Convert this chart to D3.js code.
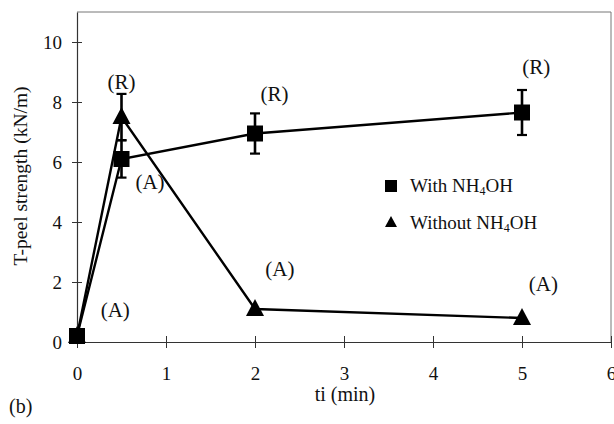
<!DOCTYPE html>
<html>
<head>
<meta charset="utf-8">
<script src="https://cdn.jsdelivr.net/npm/d3@7"></script>
<style>
  html, body { margin: 0; padding: 0; background: #fff; }
  svg { display: block; }
  svg text { font-family: 'Liberation Serif', 'Times New Roman', serif !important; fill: #111; }
</style>
</head>
<body>
<svg id="chart" width="614" height="424" font-family="Liberation Serif, serif"></svg>
<script>
// ---- data ----
const times = [0, 0.5, 2, 5];
const withNH4OH = [0.2, 6.1, 6.95, 7.65];
const withErr   = [0, 0.62, 0.67, 0.75];
const withoutNH4OH = [0.2, 7.5, 1.1, 0.8];
const withoutErr   = [0, 0.77, 0, 0];
const xTicks = [0, 1, 2, 3, 4, 5, 6];
const yTicks = [0, 2, 4, 6, 8, 10];
const annotations = [
  { t: 0.5,  v: 8.65, label: "(R)" },
  { t: 2.22, v: 8.22, label: "(R)" },
  { t: 5.16, v: 9.12, label: "(R)" },
  { t: 0.82, v: 5.3,  label: "(A)" },
  { t: 2.28, v: 2.4,  label: "(A)" },
  { t: 5.24, v: 1.9,  label: "(A)" },
  { t: 0.43, v: 1.05, label: "(A)" }
];

// ---- layout ----
const svg = d3.select("#chart");
const x = d3.scaleLinear().domain([0, 6]).range([77, 611]);
const y = d3.scaleLinear().domain([0, 11]).range([342, 12]);

// frame (top/right, faint)
svg.append("line").attr("x1", x(0)).attr("x2", x(6)).attr("y1", y(11)).attr("y2", y(11))
  .attr("stroke", "#777").attr("stroke-width", 1);
svg.append("line").attr("x1", x(6)).attr("x2", x(6)).attr("y1", y(11)).attr("y2", y(0))
  .attr("stroke", "#777").attr("stroke-width", 1);

// axes
const gx = svg.append("g").attr("transform", `translate(0,${y(0)})`)
  .call(d3.axisBottom(x).tickValues(xTicks).tickFormat(d3.format("d")).tickSize(6).tickSizeOuter(0));
gx.attr("font-family", null);
gx.select(".domain").attr("stroke", "#333").attr("stroke-width", 1.2);
gx.selectAll(".tick line").attr("y1", -6).attr("y2", 6).attr("stroke", "#333");
gx.selectAll(".tick text").attr("y", 38).attr("dy", 0).attr("font-size", 19).attr("fill", "#111");

const gy = svg.append("g").attr("transform", `translate(${x(0)},0)`)
  .call(d3.axisLeft(y).tickValues(yTicks).tickFormat(d3.format("d")).tickSize(5).tickSizeOuter(0));
gy.attr("font-family", null);
gy.select(".domain").attr("stroke", "#333").attr("stroke-width", 1.2);
gy.selectAll(".tick line").attr("x1", -5).attr("x2", 5).attr("stroke", "#333");
gy.selectAll(".tick text").attr("x", -15).attr("font-size", 19).attr("fill", "#111");

// axis titles
svg.append("text").attr("transform", `translate(27,176) rotate(-90)`)
  .attr("text-anchor", "middle").attr("font-size", 19.5).text("T-peel strength (kN/m)");
svg.append("text").attr("x", 345).attr("y", 401).attr("text-anchor", "middle")
  .attr("font-size", 20).text("ti (min)");
svg.append("text").attr("x", 9).attr("y", 413).attr("font-size", 20).text("(b)");

const line = d3.line().x((d, i) => x(times[i])).y(d => y(d));

function drawSeries(vals, errs, shape) {
  svg.append("path").datum(vals).attr("d", line)
    .attr("fill", "none").attr("stroke", "#000").attr("stroke-width", 2.4);
  const g = svg.append("g");
  vals.forEach((v, i) => {
    const e = errs[i];
    if (e > 0) {
      const cx = x(times[i]);
      g.append("line").attr("x1", cx).attr("x2", cx).attr("y1", y(v - e)).attr("y2", y(v + e))
        .attr("stroke", "#000").attr("stroke-width", 2.6);
      [v - e, v + e].forEach(ev => {
        g.append("line").attr("x1", cx - 5).attr("x2", cx + 5).attr("y1", y(ev)).attr("y2", y(ev))
          .attr("stroke", "#000").attr("stroke-width", 2.2);
      });
    }
  });
  vals.forEach((v, i) => {
    const cx = x(times[i]), cy = y(v);
    if (shape === "square") {
      g.append("rect").attr("x", cx - 8).attr("y", cy - 8).attr("width", 16).attr("height", 16).attr("fill", "#000");
    } else {
      g.append("path").attr("d", `M${cx},${cy - 10}L${cx + 9},${cy + 7}L${cx - 9},${cy + 7}Z`).attr("fill", "#000");
    }
  });
}
drawSeries(withoutNH4OH, withoutErr, "triangle");
drawSeries(withNH4OH, withErr, "square");

// annotations
svg.selectAll("text.ann").data(annotations).join("text").attr("class", "ann")
  .attr("x", d => x(d.t)).attr("y", d => y(d.v) + 6).attr("text-anchor", "middle")
  .attr("font-size", 21).text(d => d.label);

// legend
const legend = [
  { shape: "square", pre: "With NH", post: "OH", y: 186 },
  { shape: "triangle", pre: "Without NH", post: "OH", y: 223 }
];
legend.forEach(l => {
  if (l.shape === "square") {
    svg.append("rect").attr("x", 385).attr("y", l.y - 6).attr("width", 12).attr("height", 12).attr("fill", "#000");
  } else {
    svg.append("path").attr("d", `M391,${l.y - 7}L397,${l.y + 4}L385,${l.y + 4}Z`).attr("fill", "#000");
  }
  const t = svg.append("text").attr("x", 410).attr("y", l.y + 6).attr("font-size", 19);
  t.append("tspan").text(l.pre);
  t.append("tspan").attr("font-size", 12).attr("dy", 3).text("4");
  t.append("tspan").attr("dy", -3).text(l.post);
});
</script>
</body>
</html>
